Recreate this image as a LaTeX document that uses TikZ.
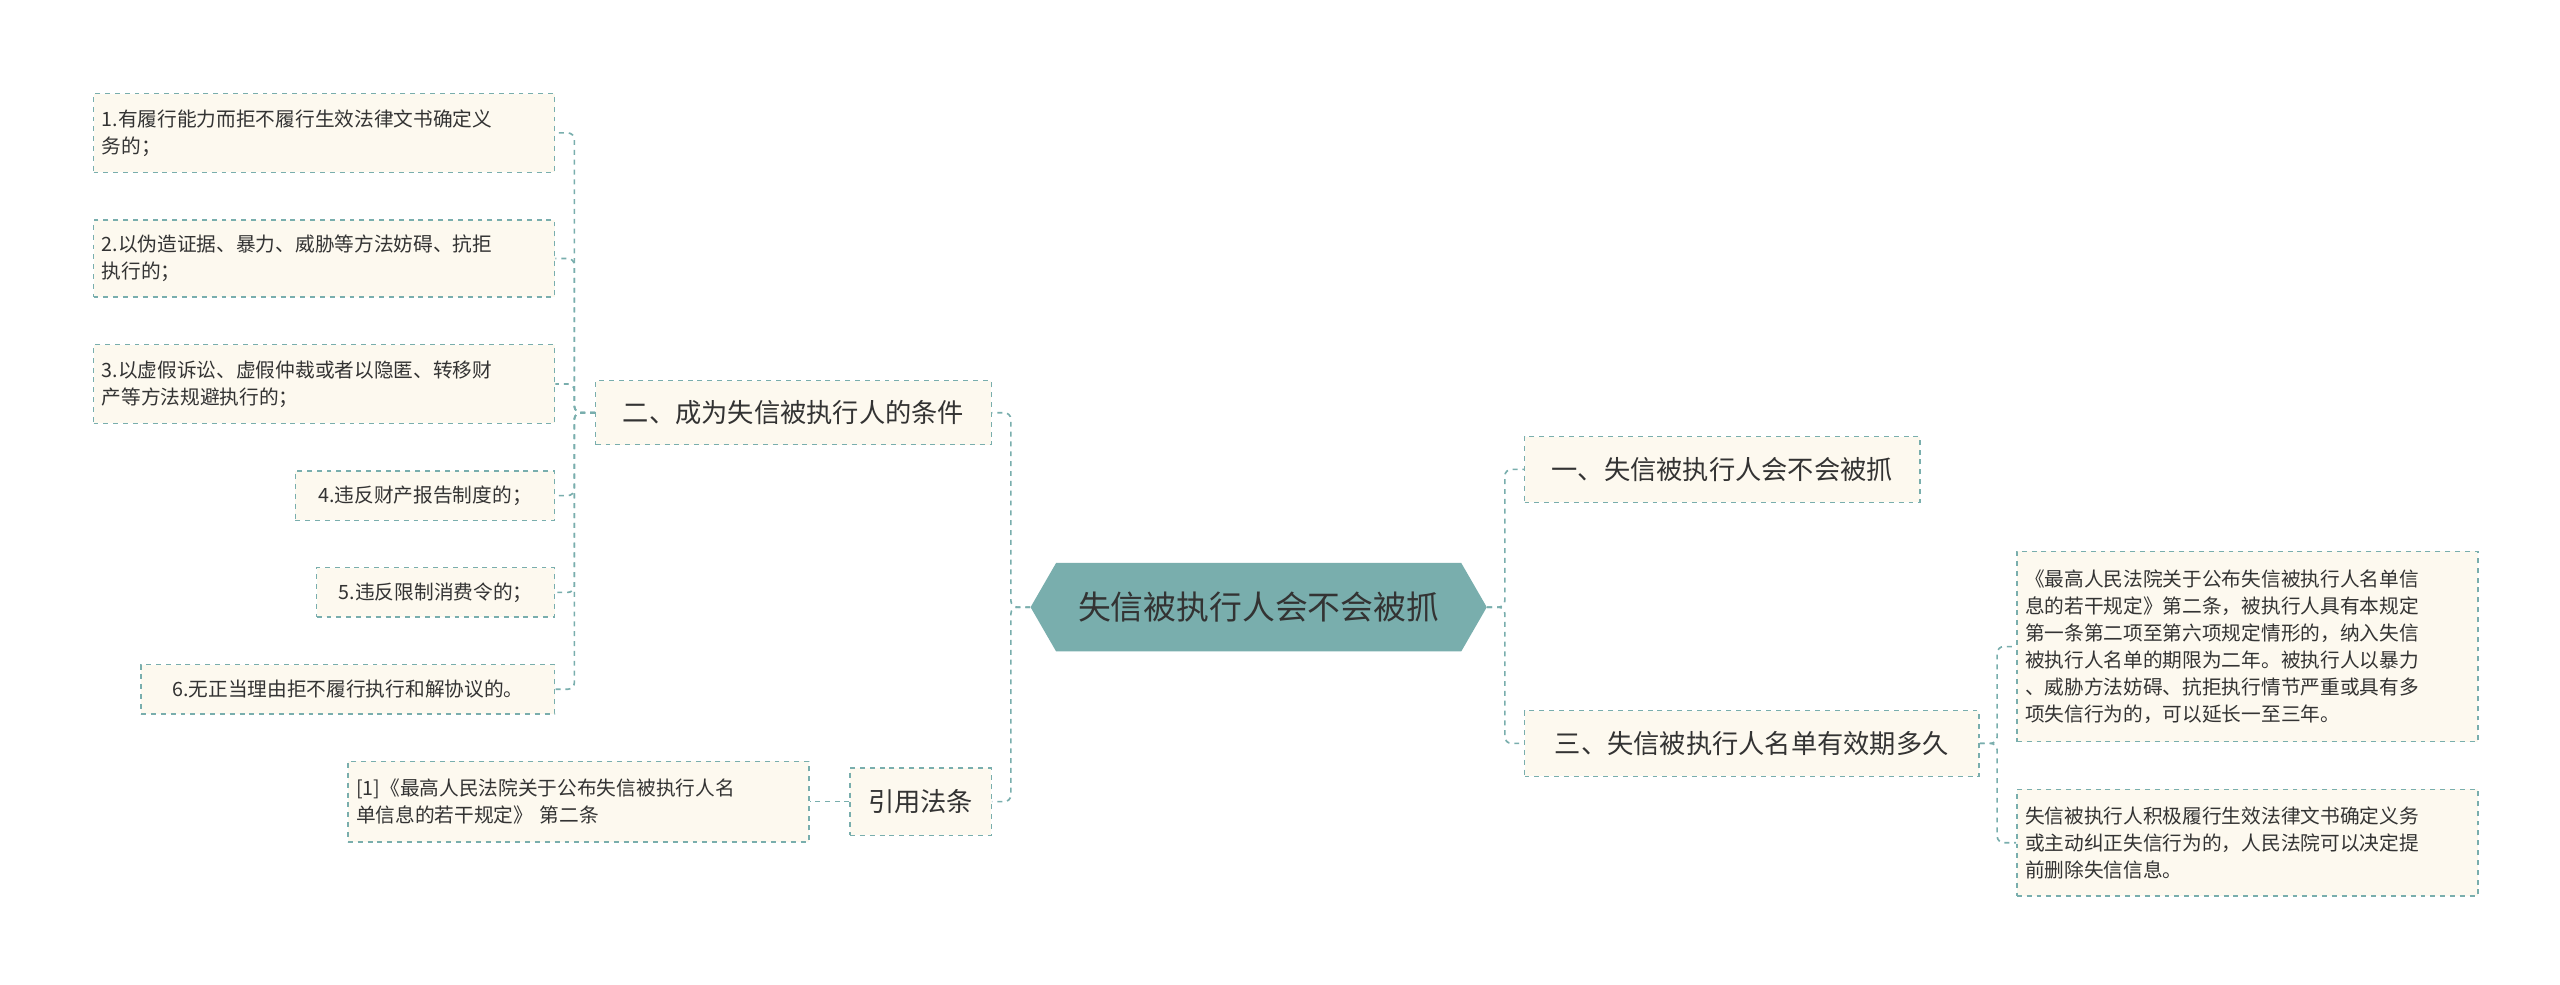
\documentclass[tikz,border=0pt]{standalone}
\usepackage{fontspec}
\setmainfont{Noto Sans CJK SC}
\usetikzlibrary{shapes.symbols}
\definecolor{teal1}{HTML}{79AEAD}
\definecolor{cream}{HTML}{FDF9EF}
\definecolor{txt}{HTML}{333333}
\tikzset{
  box/.style={draw=teal1,dashed,fill=cream,line width=0.8pt,text=txt,inner sep=0pt,anchor=center},
  leaf/.style={box,font=\fontsize{12}{16.5}\selectfont,align=left},
  lvl/.style={box,font=\fontsize{16}{20}\selectfont,align=center},
  link/.style={draw=teal1,dashed,line width=1pt,rounded corners=4pt},
}
\begin{document}
\begin{tikzpicture}[x=1pt,y=-1pt]
\useasboundingbox[fill=white] (0,0) rectangle (1560,600);
\node[signal,signal to=east and west,signal pointer angle=120,fill=teal1,text=txt,minimum width=278pt,minimum height=54pt,inner sep=0pt,font=\fontsize{20}{24}\selectfont] (c) at (767,370) {失信被执行人会不会被抓};
\node[lvl,minimum width=241pt,minimum height=40pt] (r1) at (1049.5,286) {一、失信被执行人会不会被抓};
\node[lvl,minimum width=277pt,minimum height=40pt] (r2) at (1067.5,453) {三、失信被执行人名单有效期多久};
\node[leaf,minimum width=281pt,minimum height=116pt,text width=271pt] (r21) at (1369.5,394) {《最高人民法院关于公布失信被执行人名单信\\息的若干规定》第二条，被执行人具有本规定\\第一条第二项至第六项规定情形的，纳入失信\\被执行人名单的期限为二年。被执行人以暴力\\、威胁方法妨碍、抗拒执行情节严重或具有多\\项失信行为的，可以延长一至三年。};
\node[leaf,minimum width=281pt,minimum height=65pt,text width=271pt] (r22) at (1369.5,513.5) {失信被执行人积极履行生效法律文书确定义务\\或主动纠正失信行为的，人民法院可以决定提\\前删除失信信息。};
\node[lvl,minimum width=241pt,minimum height=39pt] (l1) at (483.5,251.5) {二、成为失信被执行人的条件};
\node[lvl,minimum width=86pt,minimum height=41pt] (l2) at (561,488.5) {引用法条};
\node[leaf,minimum width=281pt,minimum height=48pt,text width=271pt] (a1) at (197.5,81) {1.有履行能力而拒不履行生效法律文书确定义\\务的；};
\node[leaf,minimum width=281pt,minimum height=47pt,text width=271pt] (a2) at (197.5,157.5) {2.以伪造证据、暴力、威胁等方法妨碍、抗拒\\执行的；};
\node[leaf,minimum width=281pt,minimum height=48pt,text width=271pt] (a3) at (197.5,234) {3.以虚假诉讼、虚假仲裁或者以隐匿、转移财\\产等方法规避执行的；};
\node[leaf,minimum width=158pt,minimum height=30pt] (a4) at (259,302) {4.违反财产报告制度的；};
\node[leaf,minimum width=145pt,minimum height=30pt] (a5) at (265.5,361) {5.违反限制消费令的；};
\node[leaf,minimum width=252pt,minimum height=30pt] (a6) at (212,420) {6.无正当理由拒不履行执行和解协议的。};
\node[leaf,minimum width=281pt,minimum height=49pt,text width=271pt] (b1) at (352.5,488.5) {[1]《最高人民法院关于公布失信被执行人名\\单信息的若干规定》 第二条};
\foreach \n in {r1,r2} \draw[link] (c.east) -- (917,370) |- (\n.west);
\foreach \n in {r21,r22} \draw[link] (r2.east) -- (1217,453) |- (\n.west);
\foreach \n in {l1,l2} \draw[link] (c.west) -- (616,370) |- (\n.east);
\foreach \n in {a1,a2,a3,a4,a5,a6} \draw[link] (l1.west) -- (350,251.5) |- (\n.east);
\draw[link] (l2.west) -- (b1.east);
\end{tikzpicture}
\end{document}
